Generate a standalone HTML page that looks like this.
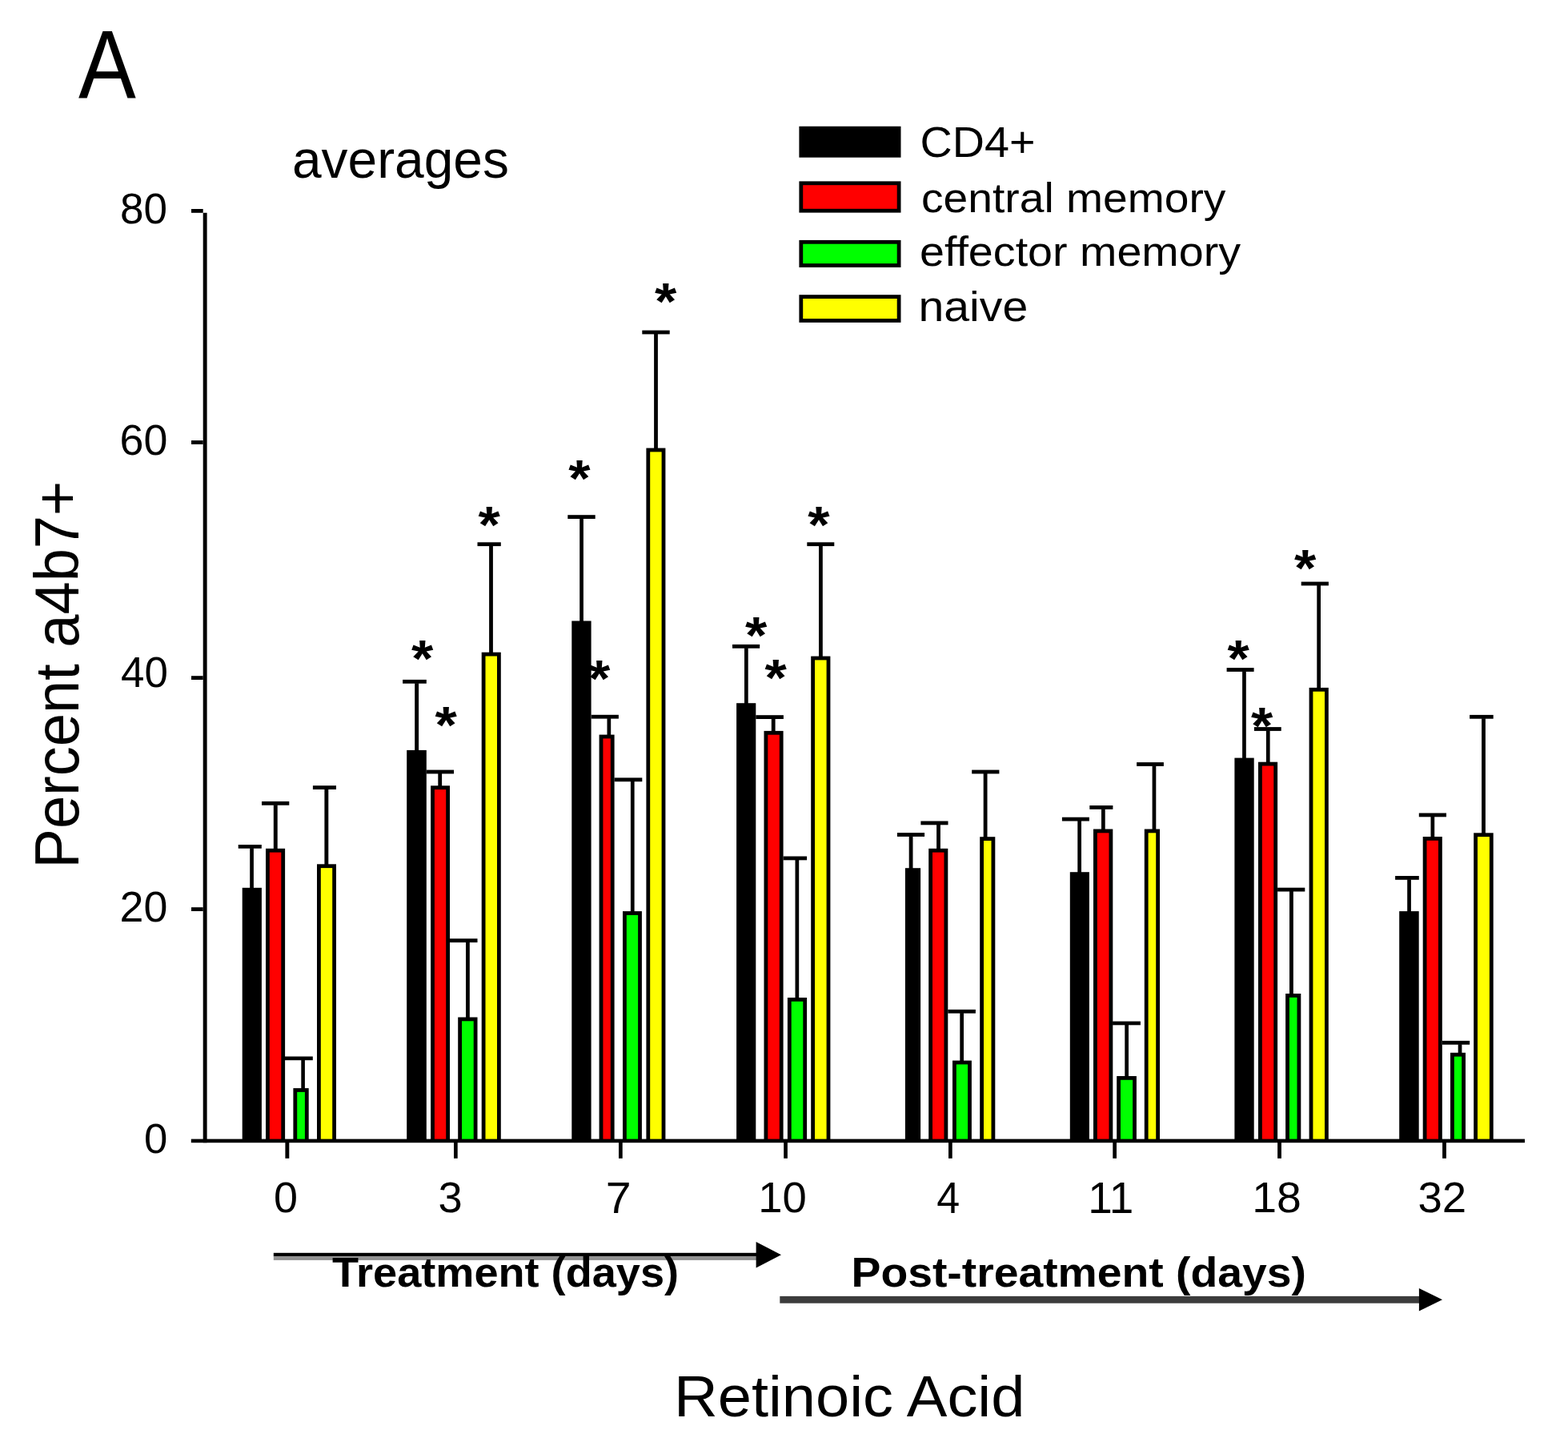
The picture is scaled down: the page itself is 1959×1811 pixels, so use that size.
<!DOCTYPE html>
<html><head><meta charset="utf-8"><title>Percent a4b7+ averages - Retinoic Acid</title>
<style>
html,body{margin:0;padding:0;background:#fff;width:1959px;height:1811px;overflow:hidden}
svg{display:block}
.t{font-family:"Liberation Sans",Arial,sans-serif;fill:#000}
</style></head><body>
<svg width="1959" height="1811" viewBox="0 0 1959 1811">
<rect x="0" y="0" width="1959" height="1811" fill="#fff"/>
<text x="514.0" y="845.2" font-size="65.5" font-weight="bold" textLength="27.31" lengthAdjust="spacingAndGlyphs" class="t">*</text>
<text x="543.5" y="928.2" font-size="65.5" font-weight="bold" textLength="27.31" lengthAdjust="spacingAndGlyphs" class="t">*</text>
<text x="597.4" y="678.4" font-size="65.5" font-weight="bold" textLength="27.31" lengthAdjust="spacingAndGlyphs" class="t">*</text>
<text x="710.2" y="619.8" font-size="65.5" font-weight="bold" textLength="27.31" lengthAdjust="spacingAndGlyphs" class="t">*</text>
<text x="735.1" y="869.5" font-size="65.5" font-weight="bold" textLength="27.31" lengthAdjust="spacingAndGlyphs" class="t">*</text>
<text x="818.1" y="399.2" font-size="65.5" font-weight="bold" textLength="27.31" lengthAdjust="spacingAndGlyphs" class="t">*</text>
<text x="930.9" y="815.5" font-size="65.5" font-weight="bold" textLength="27.31" lengthAdjust="spacingAndGlyphs" class="t">*</text>
<text x="955.4" y="869.4" font-size="65.5" font-weight="bold" textLength="27.31" lengthAdjust="spacingAndGlyphs" class="t">*</text>
<text x="1009.2" y="678.4" font-size="65.5" font-weight="bold" textLength="27.31" lengthAdjust="spacingAndGlyphs" class="t">*</text>
<text x="1533.5" y="845.1" font-size="65.5" font-weight="bold" textLength="27.31" lengthAdjust="spacingAndGlyphs" class="t">*</text>
<text x="1563.1" y="928.5" font-size="65.5" font-weight="bold" textLength="27.31" lengthAdjust="spacingAndGlyphs" class="t">*</text>
<text x="1617.0" y="732.4" font-size="65.5" font-weight="bold" textLength="27.31" lengthAdjust="spacingAndGlyphs" class="t">*</text>
<rect x="297.7" y="1055.0" width="29.1" height="4.7" fill="#000"/>
<rect x="312.2" y="1059.2" width="4.7" height="50.6" fill="#000"/>
<rect x="302.7" y="1108.8" width="24.2" height="314.8" fill="#000"/>
<rect x="327.0" y="1000.9" width="34.3" height="4.8" fill="#000"/>
<rect x="341.8" y="1005.2" width="4.9" height="55.6" fill="#000"/>
<rect x="332.0" y="1059.8" width="24.1" height="363.8" fill="#000"/>
<rect x="336.8" y="1064.6" width="14.5" height="358.5" fill="#ff0000"/>
<rect x="356.0" y="1319.5" width="34.8" height="4.7" fill="#000"/>
<rect x="376.3" y="1323.7" width="4.6" height="36.4" fill="#000"/>
<rect x="366.4" y="1359.1" width="19.3" height="64.5" fill="#000"/>
<rect x="371.2" y="1363.9" width="9.7" height="59.2" fill="#00ff00"/>
<rect x="390.9" y="981.2" width="29.1" height="4.8" fill="#000"/>
<rect x="405.4" y="985.5" width="4.9" height="94.8" fill="#000"/>
<rect x="396.0" y="1079.3" width="24.0" height="344.3" fill="#000"/>
<rect x="400.8" y="1084.1" width="14.4" height="339.0" fill="#ffff00"/>
<rect x="503.1" y="848.9" width="29.7" height="4.8" fill="#000"/>
<rect x="518.2" y="853.2" width="4.9" height="84.7" fill="#000"/>
<rect x="508.2" y="936.9" width="24.6" height="486.7" fill="#000"/>
<rect x="532.8" y="961.6" width="34.2" height="4.8" fill="#000"/>
<rect x="547.3" y="965.9" width="4.8" height="16.4" fill="#000"/>
<rect x="538.1" y="981.3" width="23.9" height="442.3" fill="#000"/>
<rect x="542.9" y="986.1" width="14.3" height="437.0" fill="#ff0000"/>
<rect x="561.7" y="1172.3" width="34.8" height="4.8" fill="#000"/>
<rect x="582.0" y="1176.6" width="4.8" height="94.9" fill="#000"/>
<rect x="572.2" y="1270.5" width="24.3" height="153.1" fill="#000"/>
<rect x="577.0" y="1275.3" width="14.7" height="147.8" fill="#00ff00"/>
<rect x="596.5" y="677.3" width="29.3" height="4.8" fill="#000"/>
<rect x="611.1" y="681.6" width="4.8" height="134.1" fill="#000"/>
<rect x="601.7" y="814.7" width="24.1" height="608.9" fill="#000"/>
<rect x="606.5" y="819.5" width="14.5" height="603.6" fill="#ffff00"/>
<rect x="709.3" y="643.2" width="34.4" height="4.8" fill="#000"/>
<rect x="724.2" y="647.5" width="4.7" height="129.0" fill="#000"/>
<rect x="714.3" y="775.5" width="24.3" height="648.1" fill="#000"/>
<rect x="738.7" y="892.8" width="34.2" height="4.8" fill="#000"/>
<rect x="758.5" y="897.1" width="4.7" height="21.5" fill="#000"/>
<rect x="748.6" y="917.6" width="19.0" height="506.0" fill="#000"/>
<rect x="753.4" y="922.4" width="9.4" height="500.7" fill="#ff0000"/>
<rect x="767.6" y="971.4" width="34.7" height="4.8" fill="#000"/>
<rect x="787.9" y="975.7" width="4.7" height="163.4" fill="#000"/>
<rect x="778.0" y="1138.1" width="23.9" height="285.5" fill="#000"/>
<rect x="782.8" y="1142.9" width="14.3" height="280.2" fill="#00ff00"/>
<rect x="802.3" y="412.6" width="34.4" height="4.8" fill="#000"/>
<rect x="817.1" y="416.9" width="4.8" height="143.7" fill="#000"/>
<rect x="807.4" y="559.6" width="24.0" height="864.0" fill="#000"/>
<rect x="812.2" y="564.4" width="14.4" height="858.7" fill="#ffff00"/>
<rect x="915.0" y="804.9" width="34.2" height="4.8" fill="#000"/>
<rect x="930.0" y="809.2" width="4.7" height="70.0" fill="#000"/>
<rect x="920.1" y="878.2" width="24.2" height="545.4" fill="#000"/>
<rect x="944.3" y="893.2" width="34.6" height="4.8" fill="#000"/>
<rect x="963.8" y="897.5" width="4.8" height="16.4" fill="#000"/>
<rect x="954.5" y="912.9" width="24.1" height="510.7" fill="#000"/>
<rect x="959.3" y="917.7" width="14.5" height="505.4" fill="#ff0000"/>
<rect x="978.6" y="1069.5" width="29.5" height="4.8" fill="#000"/>
<rect x="993.5" y="1073.8" width="4.7" height="173.2" fill="#000"/>
<rect x="983.9" y="1246.0" width="24.2" height="177.6" fill="#000"/>
<rect x="988.7" y="1250.8" width="14.6" height="172.3" fill="#00ff00"/>
<rect x="1008.3" y="677.3" width="34.0" height="4.8" fill="#000"/>
<rect x="1023.0" y="681.6" width="4.8" height="139.0" fill="#000"/>
<rect x="1013.2" y="819.6" width="24.2" height="604.0" fill="#000"/>
<rect x="1018.0" y="824.4" width="14.6" height="598.7" fill="#ffff00"/>
<rect x="1120.9" y="1040.1" width="34.2" height="4.8" fill="#000"/>
<rect x="1135.7" y="1044.4" width="4.8" height="40.8" fill="#000"/>
<rect x="1130.9" y="1084.2" width="19.2" height="339.4" fill="#000"/>
<rect x="1150.4" y="1025.5" width="34.1" height="4.8" fill="#000"/>
<rect x="1170.1" y="1029.8" width="4.8" height="31.0" fill="#000"/>
<rect x="1160.2" y="1059.8" width="24.1" height="363.8" fill="#000"/>
<rect x="1165.0" y="1064.6" width="14.5" height="358.5" fill="#ff0000"/>
<rect x="1184.3" y="1260.9" width="34.6" height="4.7" fill="#000"/>
<rect x="1199.3" y="1265.1" width="4.7" height="60.5" fill="#000"/>
<rect x="1190.0" y="1324.6" width="23.9" height="99.0" fill="#000"/>
<rect x="1194.8" y="1329.4" width="14.3" height="93.7" fill="#00ff00"/>
<rect x="1214.2" y="961.6" width="34.2" height="4.8" fill="#000"/>
<rect x="1228.7" y="965.9" width="4.8" height="80.3" fill="#000"/>
<rect x="1224.2" y="1045.2" width="19.1" height="378.4" fill="#000"/>
<rect x="1229.0" y="1050.0" width="9.5" height="373.1" fill="#ffff00"/>
<rect x="1326.9" y="1020.7" width="34.0" height="4.8" fill="#000"/>
<rect x="1346.3" y="1025.0" width="4.7" height="65.2" fill="#000"/>
<rect x="1336.8" y="1089.2" width="24.1" height="334.4" fill="#000"/>
<rect x="1361.3" y="1006.0" width="29.1" height="4.8" fill="#000"/>
<rect x="1376.0" y="1010.3" width="4.7" height="26.2" fill="#000"/>
<rect x="1366.0" y="1035.5" width="24.3" height="388.1" fill="#000"/>
<rect x="1370.8" y="1040.3" width="14.7" height="382.8" fill="#ff0000"/>
<rect x="1390.1" y="1275.6" width="34.8" height="4.7" fill="#000"/>
<rect x="1405.3" y="1279.8" width="4.7" height="65.2" fill="#000"/>
<rect x="1395.2" y="1344.0" width="24.7" height="79.6" fill="#000"/>
<rect x="1400.0" y="1348.8" width="15.1" height="74.3" fill="#00ff00"/>
<rect x="1420.1" y="952.1" width="33.8" height="4.8" fill="#000"/>
<rect x="1439.6" y="956.4" width="4.7" height="80.1" fill="#000"/>
<rect x="1429.8" y="1035.5" width="19.2" height="388.1" fill="#000"/>
<rect x="1434.6" y="1040.3" width="9.6" height="382.8" fill="#ffff00"/>
<rect x="1532.6" y="834.1" width="34.0" height="4.8" fill="#000"/>
<rect x="1552.1" y="838.4" width="4.7" height="109.2" fill="#000"/>
<rect x="1542.4" y="946.6" width="24.3" height="477.0" fill="#000"/>
<rect x="1566.9" y="908.1" width="33.8" height="4.8" fill="#000"/>
<rect x="1581.9" y="912.4" width="4.7" height="40.3" fill="#000"/>
<rect x="1572.0" y="951.7" width="24.1" height="471.9" fill="#000"/>
<rect x="1576.8" y="956.5" width="14.5" height="466.6" fill="#ff0000"/>
<rect x="1596.1" y="1108.7" width="34.2" height="4.8" fill="#000"/>
<rect x="1611.0" y="1113.0" width="4.8" height="129.0" fill="#000"/>
<rect x="1606.1" y="1241.0" width="19.2" height="182.6" fill="#000"/>
<rect x="1610.9" y="1245.8" width="9.6" height="177.3" fill="#00ff00"/>
<rect x="1625.7" y="726.6" width="34.2" height="4.8" fill="#000"/>
<rect x="1645.3" y="730.9" width="4.7" height="129.0" fill="#000"/>
<rect x="1635.6" y="858.9" width="24.2" height="564.7" fill="#000"/>
<rect x="1640.4" y="863.7" width="14.6" height="559.4" fill="#ffff00"/>
<rect x="1743.1" y="1094.0" width="29.7" height="4.8" fill="#000"/>
<rect x="1758.2" y="1098.3" width="4.7" height="40.8" fill="#000"/>
<rect x="1748.2" y="1138.1" width="24.5" height="285.5" fill="#000"/>
<rect x="1772.8" y="1015.5" width="34.2" height="4.8" fill="#000"/>
<rect x="1787.5" y="1019.8" width="4.7" height="26.2" fill="#000"/>
<rect x="1777.7" y="1045.0" width="24.1" height="378.6" fill="#000"/>
<rect x="1782.5" y="1049.8" width="14.5" height="373.3" fill="#ff0000"/>
<rect x="1801.8" y="1299.9" width="34.4" height="4.8" fill="#000"/>
<rect x="1821.7" y="1304.2" width="4.7" height="11.6" fill="#000"/>
<rect x="1812.0" y="1314.8" width="19.0" height="108.8" fill="#000"/>
<rect x="1816.8" y="1319.6" width="9.4" height="103.5" fill="#00ff00"/>
<rect x="1836.1" y="892.9" width="29.6" height="4.8" fill="#000"/>
<rect x="1851.1" y="897.2" width="4.8" height="144.1" fill="#000"/>
<rect x="1841.2" y="1040.3" width="24.5" height="383.3" fill="#000"/>
<rect x="1846.0" y="1045.1" width="14.9" height="378.0" fill="#ffff00"/>
<rect x="253.7" y="265.8" width="4.9" height="1161.4" fill="#000"/>
<rect x="239.0" y="261.0" width="14.7" height="4.8" fill="#000"/>
<rect x="239.0" y="550.1" width="14.7" height="4.8" fill="#000"/>
<rect x="239.0" y="844.2" width="14.7" height="4.8" fill="#000"/>
<rect x="239.0" y="1133.2" width="14.7" height="4.8" fill="#000"/>
<rect x="238.8" y="1422.6" width="1666.2" height="4.6" fill="#000"/>
<rect x="356.4" y="1426.7" width="4.9" height="20.1" fill="#000"/>
<rect x="567.0" y="1426.7" width="4.7" height="20.1" fill="#000"/>
<rect x="773.0" y="1426.7" width="4.7" height="20.1" fill="#000"/>
<rect x="979.2" y="1426.7" width="4.7" height="20.1" fill="#000"/>
<rect x="1185.0" y="1426.7" width="4.7" height="20.1" fill="#000"/>
<rect x="1390.3" y="1426.7" width="4.7" height="20.1" fill="#000"/>
<rect x="1596.1" y="1426.7" width="4.8" height="20.1" fill="#000"/>
<rect x="1802.1" y="1426.7" width="4.8" height="20.1" fill="#000"/>
<rect x="998.4" y="157.8" width="127.1" height="38.9" fill="#000"/>
<rect x="998.4" y="226.4" width="127.1" height="39.2" fill="#000"/>
<rect x="1003.2" y="231.2" width="117.5" height="29.6" fill="#ff0000"/>
<rect x="998.4" y="299.9" width="127.1" height="34.0" fill="#000"/>
<rect x="1003.2" y="304.7" width="117.5" height="24.4" fill="#00ff00"/>
<rect x="998.4" y="368.2" width="127.1" height="34.6" fill="#000"/>
<rect x="1003.2" y="373.0" width="117.5" height="25.0" fill="#ffff00"/>
<rect x="341.8" y="1564.8" width="604.2" height="4.5" fill="#000"/>
<rect x="341.8" y="1569.3" width="604.2" height="4.6" fill="#909090"/>
<polygon points="944.6,1551 976,1567.2 944.6,1583.4" fill="#000"/>
<rect x="974.3" y="1618.9" width="799.7" height="8.8" fill="#3c3c3c"/>
<polygon points="1772.9,1609 1802,1623.3 1772.9,1637.6" fill="#000"/>
<text x="98.0" y="122.0" font-size="120.33" textLength="71.88" lengthAdjust="spacingAndGlyphs" class="t">A</text>
<text x="365.0" y="222.0" font-size="66.06" textLength="270.87" lengthAdjust="spacingAndGlyphs" class="t">averages</text>
<text x="150.0" y="279.0" font-size="54.0" textLength="59.0" lengthAdjust="spacingAndGlyphs" class="t">80</text>
<text x="149.5" y="568.4" font-size="54.29" textLength="59.85" lengthAdjust="spacingAndGlyphs" class="t">60</text>
<text x="151.0" y="857.9" font-size="54.29" textLength="58.87" lengthAdjust="spacingAndGlyphs" class="t">40</text>
<text x="149.5" y="1151.4" font-size="54.29" textLength="59.85" lengthAdjust="spacingAndGlyphs" class="t">20</text>
<text x="180.0" y="1439.9" font-size="52.35" textLength="29.31" lengthAdjust="spacingAndGlyphs" class="t">0</text>
<text x="342.0" y="1514.2" font-size="54.0" textLength="30.0" lengthAdjust="spacingAndGlyphs" class="t">0</text>
<text x="547.6" y="1514.2" font-size="54.0" textLength="30.2" lengthAdjust="spacingAndGlyphs" class="t">3</text>
<text x="756.8" y="1515.2" font-size="55.54" textLength="31.86" lengthAdjust="spacingAndGlyphs" class="t">7</text>
<text x="947.3" y="1514.2" font-size="54.0" textLength="60.6" lengthAdjust="spacingAndGlyphs" class="t">10</text>
<text x="1170.3" y="1515.2" font-size="55.54" textLength="28.93" lengthAdjust="spacingAndGlyphs" class="t">4</text>
<text x="1359.2" y="1515.2" font-size="55.54" textLength="57.02" lengthAdjust="spacingAndGlyphs" class="t">11</text>
<text x="1564.3" y="1514.2" font-size="54.0" textLength="61.6" lengthAdjust="spacingAndGlyphs" class="t">18</text>
<text x="1771.4" y="1514.2" font-size="54.0" textLength="60.8" lengthAdjust="spacingAndGlyphs" class="t">32</text>
<text x="97.5" y="1084.5" font-size="77.75" textLength="483.78" lengthAdjust="spacingAndGlyphs" transform="rotate(-90 97.5 1084.5)" class="t">Percent a4b7+</text>
<text x="415.0" y="1607.0" font-size="51.83" font-weight="bold" textLength="433.0" lengthAdjust="spacingAndGlyphs" class="t">Treatment (days)</text>
<text x="1063.5" y="1607.2" font-size="51.5" font-weight="bold" textLength="568.49" lengthAdjust="spacingAndGlyphs" class="t">Post-treatment (days)</text>
<text x="842.0" y="1768.6" font-size="72.32" textLength="438.31" lengthAdjust="spacingAndGlyphs" class="t">Retinoic Acid</text>
<text x="1149.5" y="196.0" font-size="53.44" textLength="143.89" lengthAdjust="spacingAndGlyphs" class="t">CD4+</text>
<text x="1151.0" y="264.5" font-size="52.35" textLength="380.39" lengthAdjust="spacingAndGlyphs" class="t">central memory</text>
<text x="1149.0" y="332.3" font-size="51.86" textLength="400.99" lengthAdjust="spacingAndGlyphs" class="t">effector memory</text>
<text x="1147.5" y="401.3" font-size="52.4" textLength="136.7" lengthAdjust="spacingAndGlyphs" class="t">naive</text>
</svg>
</body></html>
